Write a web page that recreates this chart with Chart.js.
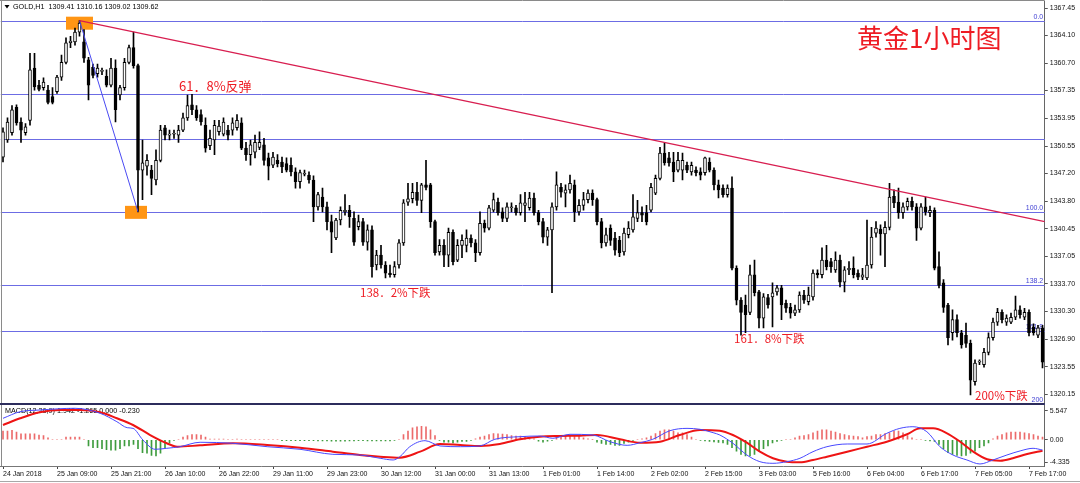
<!DOCTYPE html>
<html>
<head>
<meta charset="utf-8">
<script src="https://cdn.jsdelivr.net/npm/chart.js@4.4.0/dist/chart.umd.min.js"></script>
<style>
  html, body { margin: 0; padding: 0; background: #fff; }
  #wrap { position: relative; width: 1080px; height: 483px; overflow: hidden; background: #fff; }
  #price { position: absolute; left: 0; top: 0; }
  #macd { position: absolute; left: 0; top: 405px; }
</style>
</head>
<body>
<div id="wrap">
  <canvas id="price" width="1080" height="405"></canvas>
  <canvas id="macd" width="1080" height="78"></canvas>
</div>
<script>
// GOLD H1 bars (one entry per hourly bar)
const opens = [
  1349.2, 1351.3, 1352.2, 1355.3, 1353.5, 1352.2, 1353.7, 1360.1, 1358.0, 1357.7,
  1357.4, 1356.6, 1357.2, 1359.0, 1360.8, 1363.2, 1363.3, 1364.5, 1363.3, 1361.1,
  1360.2, 1359.4, 1359.7, 1359.1, 1358.0, 1360.1, 1356.8, 1357.7, 1360.8, 1362.6,
  1360.4, 1347.6, 1348.1, 1347.6, 1346.4, 1348.8, 1352.8, 1351.9, 1352.0, 1351.9,
  1352.5, 1354.0, 1355.6, 1355.0, 1354.4, 1353.1, 1350.6, 1351.3, 1352.3, 1352.0,
  1352.5, 1352.5, 1352.8, 1353.4, 1350.3, 1349.5, 1349.8, 1350.4, 1350.7, 1349.1,
  1348.2, 1348.8, 1348.6, 1348.4, 1348.2, 1347.4, 1346.2, 1347.1, 1347.0, 1346.4,
  1343.1, 1344.3, 1343.1, 1341.3, 1339.3, 1341.5, 1342.5, 1342.7, 1341.7, 1340.7,
  1341.3, 1338.8, 1340.3, 1336.0, 1337.2, 1336.0, 1335.0, 1334.8, 1336.0, 1338.7,
  1343.7, 1344.1, 1344.9, 1343.9, 1345.8, 1345.8, 1341.3, 1337.6, 1338.4, 1337.2,
  1340.0, 1336.6, 1338.4, 1338.4, 1339.3, 1338.7, 1337.5, 1341.1, 1340.5, 1342.7,
  1343.7, 1342.5, 1341.7, 1343.0, 1343.0, 1342.4, 1343.3, 1343.0, 1344.2, 1342.4,
  1341.3, 1339.4, 1340.3, 1343.1, 1345.5, 1344.8, 1345.2, 1345.8, 1342.5, 1343.3,
  1344.0, 1344.8, 1344.0, 1341.3, 1338.7, 1340.5, 1339.3, 1339.0, 1337.6, 1339.7,
  1340.3, 1341.7, 1342.4, 1342.4, 1342.7, 1344.8, 1346.6, 1349.7, 1349.1, 1348.6,
  1347.6, 1347.6, 1348.2, 1347.4, 1347.6, 1347.4, 1347.3, 1348.6, 1347.6, 1345.8,
  1345.4, 1344.6, 1345.4, 1335.6, 1331.7, 1331.1, 1330.2, 1334.8, 1332.7, 1329.5,
  1332.0, 1332.1, 1332.7, 1333.2, 1331.3, 1330.8, 1330.1, 1330.5, 1332.3, 1331.5,
  1332.1, 1335.0, 1334.8, 1336.6, 1336.4, 1335.4, 1336.6, 1333.9, 1335.4, 1335.6,
  1335.0, 1334.5, 1334.4, 1336.0, 1339.9, 1340.4, 1339.8, 1340.6, 1344.4, 1343.7,
  1342.4, 1343.1, 1343.8, 1343.1, 1340.5, 1343.1, 1342.4, 1342.7, 1335.8, 1333.8,
  1331.1, 1327.7, 1329.3, 1327.7, 1327.4, 1326.4, 1321.7, 1324.1, 1323.8, 1325.3,
  1327.1, 1329.0, 1330.2, 1329.0, 1329.0, 1329.6, 1330.5, 1329.6, 1330.2, 1328.4,
  1327.4, 1328.3
];
const highs = [
  1352.8, 1354.0, 1355.5, 1355.6, 1354.0, 1353.3, 1361.9, 1361.9, 1358.6, 1358.9,
  1358.0, 1357.7, 1359.2, 1361.7, 1363.8, 1364.0, 1365.0, 1365.9, 1364.8, 1361.4,
  1360.6, 1360.6, 1360.1, 1359.9, 1361.3, 1361.1, 1358.0, 1361.3, 1362.9, 1364.5,
  1360.6, 1351.3, 1349.5, 1348.2, 1350.1, 1353.1, 1353.1, 1352.5, 1352.5, 1353.1,
  1354.6, 1356.8, 1356.9, 1355.5, 1355.0, 1354.0, 1352.5, 1353.7, 1353.7, 1354.0,
  1353.1, 1354.0, 1354.4, 1354.0, 1351.0, 1351.3, 1351.9, 1352.3, 1351.5, 1349.7,
  1349.8, 1349.5, 1349.2, 1349.1, 1349.1, 1347.9, 1347.6, 1347.6, 1347.4, 1346.9,
  1344.9, 1345.4, 1343.7, 1342.1, 1341.7, 1343.1, 1344.6, 1343.3, 1342.5, 1342.1,
  1341.7, 1340.9, 1340.8, 1337.8, 1338.4, 1336.4, 1336.0, 1336.4, 1339.1, 1344.0,
  1346.0, 1346.0, 1346.1, 1346.0, 1348.8, 1346.0, 1341.5, 1339.1, 1339.1, 1340.5,
  1340.3, 1339.1, 1339.7, 1340.3, 1339.7, 1339.1, 1342.5, 1341.5, 1343.3, 1344.8,
  1344.2, 1343.0, 1343.6, 1343.6, 1343.3, 1344.6, 1344.9, 1344.9, 1344.8, 1342.7,
  1341.7, 1340.6, 1343.6, 1347.4, 1346.0, 1345.8, 1347.0, 1346.4, 1344.0, 1344.9,
  1345.2, 1345.2, 1344.2, 1341.7, 1340.5, 1340.9, 1340.0, 1339.5, 1340.5, 1341.3,
  1344.6, 1343.9, 1343.1, 1343.3, 1346.0, 1347.0, 1350.4, 1350.9, 1349.8, 1349.8,
  1349.8, 1349.7, 1348.6, 1348.6, 1348.0, 1347.9, 1349.2, 1349.1, 1347.9, 1346.4,
  1345.8, 1345.8, 1346.8, 1335.9, 1332.0, 1332.3, 1336.0, 1336.6, 1332.9, 1332.5,
  1332.4, 1333.8, 1333.5, 1333.5, 1331.7, 1331.3, 1331.1, 1332.7, 1332.9, 1333.3,
  1335.4, 1335.4, 1338.1, 1338.4, 1336.8, 1337.6, 1337.2, 1335.8, 1336.4, 1337.0,
  1335.4, 1335.6, 1341.5, 1340.6, 1341.3, 1340.9, 1341.3, 1346.0, 1345.2, 1345.4,
  1343.6, 1344.2, 1344.3, 1343.5, 1343.5, 1344.3, 1343.2, 1343.0, 1337.6, 1334.2,
  1331.3, 1330.5, 1329.9, 1328.0, 1328.9, 1326.8, 1324.4, 1324.4, 1325.8, 1327.7,
  1329.5, 1330.7, 1330.5, 1329.9, 1330.1, 1332.2, 1331.0, 1330.7, 1330.5, 1328.8,
  1328.6, 1328.6
];
const lows = [
  1348.6, 1351.0, 1351.9, 1353.1, 1351.0, 1351.9, 1353.1, 1357.4, 1357.3, 1357.4,
  1355.7, 1355.7, 1357.0, 1358.6, 1360.6, 1362.6, 1362.9, 1364.0, 1360.8, 1356.2,
  1358.9, 1359.0, 1359.3, 1357.8, 1357.8, 1353.5, 1356.2, 1357.4, 1360.6, 1360.1,
  1342.5, 1344.0, 1347.0, 1344.6, 1345.8, 1348.6, 1351.3, 1351.3, 1351.5, 1351.0,
  1352.3, 1353.7, 1354.4, 1353.7, 1353.1, 1349.8, 1350.1, 1349.5, 1351.9, 1351.8,
  1351.3, 1351.9, 1352.5, 1350.1, 1348.8, 1348.2, 1349.1, 1350.1, 1348.2, 1346.4,
  1347.9, 1348.0, 1347.3, 1347.4, 1346.9, 1345.4, 1345.4, 1346.9, 1346.0, 1341.3,
  1342.7, 1342.5, 1340.3, 1337.5, 1339.1, 1340.9, 1342.1, 1340.6, 1338.4, 1340.3,
  1338.4, 1337.8, 1334.5, 1335.4, 1335.6, 1334.4, 1334.5, 1334.5, 1335.6, 1338.4,
  1343.3, 1343.6, 1343.3, 1342.4, 1345.2, 1340.6, 1337.2, 1337.2, 1335.8, 1335.8,
  1336.0, 1336.4, 1336.9, 1337.6, 1338.2, 1336.4, 1337.2, 1340.0, 1340.3, 1342.5,
  1342.1, 1341.3, 1341.3, 1342.5, 1342.1, 1342.1, 1341.3, 1342.7, 1342.1, 1340.9,
  1338.7, 1338.4, 1332.6, 1342.7, 1344.3, 1343.1, 1344.8, 1341.3, 1342.1, 1342.7,
  1343.6, 1343.3, 1340.9, 1338.1, 1338.3, 1338.4, 1337.2, 1337.0, 1337.2, 1339.3,
  1340.0, 1341.3, 1341.3, 1340.9, 1342.5, 1344.6, 1346.4, 1348.2, 1348.1, 1346.2,
  1347.4, 1346.4, 1347.3, 1347.0, 1346.9, 1346.4, 1347.0, 1347.4, 1345.2, 1344.2,
  1344.3, 1344.3, 1335.4, 1331.1, 1327.4, 1327.7, 1329.9, 1332.2, 1328.3, 1328.3,
  1330.7, 1328.4, 1332.3, 1329.3, 1330.2, 1329.5, 1329.8, 1330.2, 1331.3, 1331.1,
  1331.7, 1334.4, 1334.4, 1335.4, 1335.1, 1335.1, 1333.3, 1332.7, 1334.8, 1334.4,
  1334.2, 1334.2, 1334.2, 1335.6, 1339.4, 1337.2, 1335.8, 1340.3, 1343.0, 1341.7,
  1341.7, 1342.7, 1342.7, 1339.0, 1340.3, 1342.1, 1341.9, 1335.4, 1333.2, 1330.2,
  1326.2, 1326.8, 1327.2, 1325.8, 1325.9, 1320.1, 1321.3, 1323.8, 1323.5, 1325.0,
  1326.8, 1328.6, 1328.9, 1328.6, 1328.8, 1329.3, 1329.5, 1329.3, 1327.3, 1327.4,
  1327.1, 1323.4
];
const closes = [
  1352.3, 1353.5, 1355.0, 1353.4, 1352.5, 1352.9, 1359.9, 1357.8, 1357.5, 1358.4,
  1355.9, 1355.9, 1359.0, 1360.8, 1363.2, 1363.4, 1364.5, 1365.6, 1361.3, 1358.0,
  1359.2, 1360.1, 1359.8, 1358.0, 1360.1, 1355.0, 1357.7, 1360.8, 1362.6, 1360.4,
  1347.6, 1348.5, 1348.8, 1346.6, 1348.8, 1352.5, 1351.9, 1352.0, 1352.1, 1352.5,
  1354.0, 1355.5, 1355.0, 1354.0, 1353.5, 1350.3, 1351.5, 1353.1, 1353.0, 1353.5,
  1351.9, 1353.4, 1353.7, 1350.3, 1349.5, 1350.7, 1351.0, 1351.0, 1348.8, 1348.1,
  1349.2, 1348.4, 1348.0, 1347.6, 1347.4, 1346.2, 1347.3, 1347.2, 1346.4, 1343.1,
  1344.6, 1343.1, 1341.3, 1340.0, 1341.5, 1342.7, 1342.7, 1341.9, 1338.8, 1341.3,
  1338.8, 1340.3, 1335.8, 1337.2, 1336.0, 1335.0, 1334.8, 1335.8, 1338.7, 1343.6,
  1344.1, 1344.9, 1343.9, 1345.8, 1345.5, 1341.3, 1337.5, 1338.4, 1337.2, 1340.0,
  1336.4, 1338.4, 1339.0, 1339.3, 1338.7, 1337.5, 1341.1, 1340.5, 1343.0, 1344.0,
  1342.4, 1341.7, 1343.1, 1343.1, 1342.4, 1343.6, 1343.6, 1344.2, 1342.4, 1341.3,
  1339.4, 1340.3, 1343.1, 1345.8, 1344.9, 1345.2, 1346.0, 1342.5, 1343.3, 1344.0,
  1344.8, 1344.0, 1341.3, 1338.7, 1339.7, 1339.0, 1337.8, 1337.5, 1339.9, 1340.5,
  1341.9, 1342.4, 1342.1, 1341.3, 1345.5, 1346.6, 1349.7, 1348.5, 1348.5, 1347.4,
  1348.8, 1348.8, 1347.6, 1348.2, 1347.3, 1347.0, 1349.1, 1347.6, 1345.8, 1345.2,
  1344.6, 1345.4, 1335.6, 1331.7, 1330.2, 1329.9, 1334.8, 1332.6, 1329.5, 1332.1,
  1331.1, 1332.6, 1333.2, 1331.1, 1330.7, 1330.1, 1330.5, 1332.3, 1331.7, 1332.3,
  1335.0, 1334.8, 1336.6, 1335.8, 1335.8, 1336.6, 1333.9, 1335.4, 1335.6, 1334.8,
  1334.5, 1334.8, 1336.0, 1339.4, 1340.5, 1339.8, 1340.6, 1344.3, 1343.6, 1342.4,
  1343.1, 1343.8, 1343.1, 1340.5, 1343.1, 1342.5, 1342.7, 1335.6, 1333.5, 1330.8,
  1327.1, 1329.3, 1327.7, 1326.2, 1326.4, 1321.9, 1324.0, 1324.2, 1325.3, 1327.1,
  1329.0, 1330.2, 1329.3, 1329.5, 1329.6, 1330.5, 1329.9, 1330.2, 1327.7, 1327.7,
  1328.3, 1324.1
];

// time axis labels, one every 12 bars
const xTickLabels = ['24 Jan 2018', '25 Jan 09:00', '25 Jan 21:00', '26 Jan 10:00', '26 Jan 22:00',
  '29 Jan 11:00', '29 Jan 23:00', '30 Jan 12:00', '31 Jan 00:00', '31 Jan 13:00',
  '1 Feb 01:00', '1 Feb 14:00', '2 Feb 02:00', '2 Feb 15:00', '3 Feb 03:00',
  '5 Feb 16:00', '6 Feb 04:00', '6 Feb 17:00', '7 Feb 05:00', '7 Feb 17:00'];
const LABEL_STEP = 12;

// price scale
const priceTicks = [1367.45, 1364.10, 1360.70, 1357.35, 1353.95, 1350.55, 1347.20, 1343.80,
  1340.45, 1337.05, 1333.70, 1330.30, 1326.90, 1323.55, 1320.15];
const PRICE_MIN = 1318.98, PRICE_MAX = 1368.31;

// fibonacci levels drawn on the chart
const fibLevels = [1365.86, 1356.91, 1351.39, 1342.44, 1333.49, 1327.97, 1319.02];
const fibLabels = ['0.0', '', '', '100.0', '138.2', '161.8', '200'];

// trend line (bar index, price) and the swing it was drawn from
const trendStart = [17, 1365.9];
const trendEnd = [231.5, 1341.3];
const SWING_HIGH = 17, SWING_LOW = 30;

// MACD(12,26,9)
const macdHist = [
  1.7, 1.7, 1.8, 1.5, 1.15, 1.15, 1.15, 1.15, 0.9, 0.8,
  0.4, 0.1, 0.0, 0.1, 0.5, 0.5, 0.5, 0.5, 0.1, -1.2,
  -1.5, -1.5, -1.7, -1.9, -2.0, -2.0, -1.7, -1.2, -1.2, -0.9,
  -1.7, -2.5, -2.6, -3.0, -3.1, -2.6, -1.5, -0.6, -0.1, 0.1,
  0.5, 0.8, 1.0, 1.0, 0.9, 0.5, 0.15, 0.15, 0.15, 0.15,
  0.1, 0.1, 0.15, 0.1, 0.1, 0.1, 0.1, 0.1, 0.1, 0.1,
  0.1, 0.1, -0.15, -0.15, -0.15, -0.15, -0.15, -0.15, -0.15, -0.15,
  -0.2, -0.2, -0.2, -0.25, -0.25, -0.25, -0.25, -0.2, -0.2, -0.15,
  -0.15, -0.2, -0.2, -0.2, -0.2, -0.2, -0.2, -0.1, 0.0, 1.0,
  1.7, 2.3, 2.5, 2.6, 2.5, 1.9, 0.8, -0.1, -0.45, -0.45,
  -0.6, -0.45, -0.3, -0.3, -0.1, 0.2, 0.5, 0.7, 1.0, 1.2,
  1.15, 1.1, 1.0, 0.8, 0.7, 0.7, 0.6, 0.4, 0.2, -0.25,
  -0.45, -0.25, -0.1, 0.5, 0.7, 0.8, 0.7, 0.6, 0.6, 0.4,
  0.2, 0.05, -0.45, -0.7, -0.9, -0.9, -1.1, -1.1, -0.7, -0.45,
  -0.1, 0.0, 0.2, 0.4, 0.7, 1.2, 1.7, 1.9, 1.9, 1.7,
  1.35, 1.35, 1.0, 0.5, 0.1, -0.1, -0.2, -0.3, -0.4, -0.5,
  -0.6, -0.9, -1.5, -2.2, -2.8, -3.1, -3.1, -2.8, -2.2, -1.7,
  -1.2, -0.6, -0.3, -0.1, 0.0, 0.1, 0.4, 0.7, 0.8, 1.0,
  1.35, 1.7, 1.9, 1.9, 1.7, 1.5, 1.2, 1.0, 0.8, 0.7,
  0.6, 0.4, 0.6, 0.7, 1.0, 1.0, 1.2, 1.35, 1.7, 1.7,
  1.35, 0.8, 0.4, 0.1, 0.0, -0.1, -0.2, -0.3, -0.9, -1.7,
  -2.5, -2.8, -3.0, -3.1, -3.0, -2.6, -2.2, -1.5, -1.2, -0.6,
  0.2, 0.7, 1.0, 1.35, 1.5, 1.5, 1.5, 1.35, 1.2, 1.0,
  0.7, 0.5
];
// main (blue) and signal (red) lines, sampled at bar positions
const macdAt = [0, 3.8, 8.2, 16, 21.6, 25.3, 27.6, 28.9, 31.1, 33.8, 36.4, 39.3, 43.8, 51.1, 58.7, 66,
  73.3, 79.3, 83.8, 86.7, 88.2, 90.4, 93.8, 97.1, 101.6, 106, 109.3, 114.9, 119.3, 122.2, 126,
  131.1, 134.9, 138.7, 141.6, 144.4, 148.2, 152, 154.9, 157.8, 159.3, 162.2, 165.3, 168.2, 171.1,
  174.2, 177.1, 180, 183.1, 187.6, 192, 196.4, 199.3, 202.2, 205.3, 208.2, 211.1, 214.2, 217.1,
  220, 223.1, 226.2, 228.9, 231];
const macdVals = [4.14, 5.41, 5.74, 6.07, 5.1, 3.49, 2.33, 2.2, -0.04, -1.83, -1.64, -1.33, -0.48, -0.67,
  -1.33, -1.83, -2.8, -2.93, -3.56, -3.89, -3.25, -1.33, -0.17, -1.19, -1.33, -1.19, 0.1, 0.6, 0.73,
  0.29, 1.06, 0.92, -0.37, -1.07, -0.56, 0.1, 1.75, 2.2, 2.02, 1.37, 0.92, -0.67, -2.93, -4.22, -4.53,
  -4.22, -3.56, -2.29, -1.33, -0.81, -0.81, 1.25, 2.2, 2.52, 1.56, -1.33, -2.93, -3.89, -4.66, -3.89,
  -2.93, -2.1, -1.64, -1.97];
const signalAt = [0, 3.8, 8.2, 12.7, 17.1, 21.6, 25.3, 28.9, 32.7, 36.4, 38.7, 43.8, 51.1, 58.7, 66,
  73.3, 79.3, 83.8, 88.2, 92.7, 97.1, 101.6, 106, 110.4, 114.9, 119.3, 123.8, 128.2, 132, 137.1,
  141.6, 146, 150.4, 154.9, 159.3, 162.2, 165.3, 168.2, 171.1, 174.2, 177.1, 180, 183.1, 187.6, 192,
  196.4, 200.9, 203.8, 206.7, 209.8, 212.7, 215.6, 218.7, 221.6, 224.4, 227.6, 231];
const signalVals = [2.85, 4.14, 5.3, 5.74, 5.74, 5.3, 4.14, 2.85, 0.92, -0.67, -1.33, -1.07, -0.67, -1.0,
  -1.52, -2.29, -2.93, -3.25, -3.44, -2.29, -0.81, -1.0, -1.19, -0.81, 0.1, 0.6, 0.73, 0.79, 0.92, 0.1,
  -0.56, -0.37, 0.92, 1.89, 1.75, 0.92, -0.56, -2.29, -3.56, -4.22, -4.34, -3.89, -3.25, -2.29, -1.33,
  -0.37, 1.06, 2.2, 2.2, 1.25, -0.37, -2.29, -3.76, -4.03, -3.56, -2.74, -2.1];
const macdTicks = [5.547, 0, -4.335];
const macdTickLabels = ['5.547', '0.00', '-4.335'];
const MACD_MIN = -5.05, MACD_MAX = 6.703;

Chart.defaults.font.family = "'Liberation Sans', Arial, sans-serif";
Chart.defaults.font.size = 7;
Chart.defaults.color = '#000';

const bars = opens.map((o, i) => i);
const isUp = bars.map(i => closes[i] >= opens[i]);
const X_MIN = -0.5, X_MAX = opens.length - 0.5;
const AXIS_W = 35.25;
const RED = '#ee1c24';

const notes = [
  { text: '黄金1小时图', x: 857, y: 38.5, size: 26 },
  { text: '61．8%反弹', x: 179, y: 86, size: 13 },
  { text: '138．2%下跌', x: 360, y: 293, size: 11.5 },
  { text: '161．8%下跌', x: 734, y: 339, size: 11.5 },
  { text: '200%下跌', x: 975, y: 395.5, size: 11.5 }
];

const priceDecor = {
  id: 'priceDecor',
  beforeDatasetsDraw(chart) {
    const { ctx, chartArea, scales } = chart;
    const xs = scales.x, ys = scales.y;
    ctx.save();
    // fibonacci levels, snapped to whole pixels
    ctx.strokeStyle = '#6c6ce4';
    ctx.lineWidth = 1;
    ctx.beginPath();
    fibLevels.forEach(v => {
      const py = Math.round(ys.getPixelForValue(v)) + 0.5;
      ctx.moveTo(chartArea.left, py);
      ctx.lineTo(chartArea.right, py);
    });
    ctx.stroke();
    // orange swing markers
    ctx.fillStyle = '#ff9514';
    const hx = xs.getPixelForValue(SWING_HIGH), hy = ys.getPixelForValue(highs[SWING_HIGH]);
    ctx.fillRect(hx - 13.5, hy - 4, 27, 13);
    const lx = xs.getPixelForValue(SWING_LOW), ly = ys.getPixelForValue(lows[SWING_LOW]);
    ctx.fillRect(lx - 13, ly - 6, 22, 13);
    // fib level labels
    ctx.font = "7px 'Liberation Sans', Arial, sans-serif";
    ctx.fillStyle = '#4444d4';
    ctx.textAlign = 'right';
    ctx.textBaseline = 'bottom';
    fibLevels.forEach((v, k) => {
      if (fibLabels[k]) ctx.fillText(fibLabels[k], chartArea.right - 1.5, Math.round(ys.getPixelForValue(v)) - 0.5);
    });
    ctx.restore();
  },
  afterDatasetsDraw(chart) {
    const { ctx } = chart;
    ctx.save();
    ctx.fillStyle = RED;
    ctx.textAlign = 'left';
    ctx.textBaseline = 'middle';
    notes.forEach(n => {
      ctx.font = n.size + "px 'Noto Sans CJK SC', sans-serif";
      ctx.fillText(n.text, n.x, n.y);
    });
    ctx.restore();
  },
  afterDraw(chart) {
    const { ctx, chartArea } = chart;
    ctx.save();
    ctx.strokeStyle = '#8a8a8a';
    ctx.lineWidth = 1;
    ctx.beginPath();
    ctx.moveTo(1.5, 0); ctx.lineTo(1.5, 405);
    ctx.moveTo(0, 0.5); ctx.lineTo(chartArea.right, 0.5);
    ctx.stroke();
    // panel separator
    ctx.strokeStyle = '#2c2c5c';
    ctx.lineWidth = 2;
    ctx.beginPath();
    ctx.moveTo(0, 404); ctx.lineTo(chartArea.right, 404);
    ctx.stroke();
    // symbol header
    ctx.fillStyle = '#000';
    ctx.beginPath();
    ctx.moveTo(4.5, 5); ctx.lineTo(9.5, 5); ctx.lineTo(7, 8.5); ctx.closePath();
    ctx.fill();
    ctx.font = "7.2px 'Liberation Sans', Arial, sans-serif";
    ctx.textAlign = 'left';
    ctx.textBaseline = 'middle';
    ctx.fillText('GOLD,H1  1309.41 1310.16 1309.02 1309.62', 13, 7);
    ctx.restore();
  }
};

new Chart(document.getElementById('price'), {
  type: 'bar',
  data: {
    datasets: [
      {
        type: 'line',
        data: [{ x: trendStart[0], y: trendStart[1] }, { x: trendEnd[0], y: trendEnd[1] }],
        borderColor: '#d81e50', borderWidth: 1.3, pointRadius: 0, order: 0
      },
      {
        type: 'line',
        data: [{ x: SWING_HIGH, y: highs[SWING_HIGH] }, { x: SWING_LOW, y: lows[SWING_LOW] }],
        borderColor: '#4a4af2', borderWidth: 1, pointRadius: 0, order: 0
      },
      {
        data: bars.map(i => ({ x: i, y: [opens[i], closes[i]] })),
        backgroundColor: bars.map(i => isUp[i] ? '#ffffff' : '#000000'),
        borderColor: '#000', borderWidth: 1, borderSkipped: false,
        barThickness: 3, minBarLength: 1, grouped: false, order: 1
      },
      {
        data: bars.map(i => ({ x: i, y: [lows[i], highs[i]] })),
        backgroundColor: '#000', borderWidth: 0,
        barThickness: 1, grouped: false, order: 2
      }
    ]
  },
  options: {
    responsive: false,
    animation: false,
    events: [],
    layout: { padding: { left: 0.75, top: 1, right: 0, bottom: 1 } },
    plugins: { legend: { display: false }, tooltip: { enabled: false } },
    scales: {
      x: { type: 'linear', min: X_MIN, max: X_MAX, offset: false, bounds: 'data', display: false },
      y: {
        type: 'linear', position: 'right', min: PRICE_MIN, max: PRICE_MAX, bounds: 'data',
        afterBuildTicks: s => { s.ticks = priceTicks.map(v => ({ value: v })); },
        afterFit: s => { s.width = AXIS_W; s.paddingTop = 0; s.paddingBottom = 0; },
        ticks: { callback: v => v.toFixed(2), padding: 2, color: '#111' },
        grid: { drawOnChartArea: false, drawTicks: true, tickLength: 3, color: '#555' },
        border: { display: true, color: '#666' }
      }
    }
  },
  plugins: [priceDecor]
});

const macdDecor = {
  id: 'macdDecor',
  beforeDatasetsDraw(chart) {
    const { ctx } = chart;
    ctx.save();
    ctx.fillStyle = '#000';
    ctx.font = "7.2px 'Liberation Sans', Arial, sans-serif";
    ctx.textAlign = 'left';
    ctx.textBaseline = 'middle';
    ctx.fillText('MACD(12,26,9) 1.942 -1.265 0.000 -0.230', 5, 6);
    ctx.restore();
  },
  afterDraw(chart) {
    const { ctx, chartArea } = chart;
    ctx.save();
    ctx.strokeStyle = '#8a8a8a';
    ctx.lineWidth = 1;
    ctx.beginPath();
    ctx.moveTo(1.5, 0); ctx.lineTo(1.5, chartArea.bottom);
    ctx.stroke();
    ctx.strokeStyle = '#a8a8a8';
    ctx.beginPath();
    ctx.moveTo(0, 76.5); ctx.lineTo(1080, 76.5);
    ctx.stroke();
    ctx.restore();
  }
};

new Chart(document.getElementById('macd'), {
  type: 'bar',
  data: {
    datasets: [
      {
        type: 'line',
        data: macdAt.map((x, k) => ({ x: x, y: macdVals[k] })),
        borderColor: '#4848ff', borderWidth: 1, pointRadius: 0,
        cubicInterpolationMode: 'monotone', order: 0
      },
      {
        type: 'line',
        data: signalAt.map((x, k) => ({ x: x, y: signalVals[k] })),
        borderColor: '#ee1414', borderWidth: 2, pointRadius: 0,
        cubicInterpolationMode: 'monotone', order: 1
      },
      {
        data: bars.map(i => ({ x: i, y: macdHist[i] })),
        backgroundColor: macdHist.map(v => v >= 0 ? '#ec6b6b' : '#3e9c3e'),
        borderWidth: 0, barThickness: 1, grouped: false, order: 2
      }
    ]
  },
  options: {
    responsive: false,
    animation: false,
    events: [],
    layout: { padding: { left: 0.75, top: 0, right: 0, bottom: 0 } },
    plugins: { legend: { display: false }, tooltip: { enabled: false } },
    scales: {
      x: {
        type: 'linear', position: 'bottom', min: X_MIN, max: X_MAX, offset: false, bounds: 'data',
        afterBuildTicks: s => { s.ticks = xTickLabels.map((t, k) => ({ value: k * LABEL_STEP })); },
        afterFit: s => { s.height = 17; s.paddingLeft = 0; s.paddingRight = 0; },
        ticks: {
          callback: (v, k) => xTickLabels[k], align: 'start', autoSkip: false,
          maxRotation: 0, minRotation: 0, padding: 1, color: '#111'
        },
        grid: { drawOnChartArea: false, drawTicks: true, tickLength: 3, color: '#444', offset: false },
        border: { display: true, color: '#777' }
      },
      y: {
        type: 'linear', position: 'right', min: MACD_MIN, max: MACD_MAX, bounds: 'data',
        afterBuildTicks: s => { s.ticks = macdTicks.map(v => ({ value: v })); },
        afterFit: s => { s.width = AXIS_W; s.paddingTop = 0; s.paddingBottom = 0; },
        ticks: { callback: (v, k) => macdTickLabels[k], padding: 2, color: '#111' },
        grid: { drawOnChartArea: false, drawTicks: true, tickLength: 3, color: '#555' },
        border: { display: true, color: '#666' }
      }
    }
  },
  plugins: [macdDecor]
});
</script>
</body>
</html>
